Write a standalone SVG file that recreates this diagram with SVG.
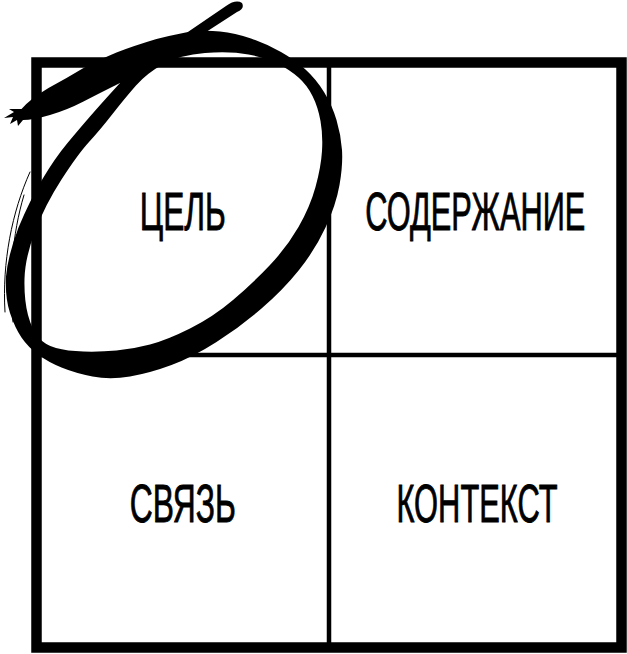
<svg xmlns="http://www.w3.org/2000/svg" width="627" height="654" viewBox="0 0 627 654">
<style>
.frame{fill:none;stroke:#000;stroke-width:10.5}
.div{fill:none;stroke:#000;stroke-width:4.5}
.lbl{font-family:"Liberation Sans",Arial,sans-serif;font-size:53px;fill:#000;stroke:#000;stroke-width:0.9;text-anchor:middle}
.ink{fill:#000}
.dry{fill:none;stroke:#000;stroke-width:1;stroke-linecap:round}
</style>
<rect x="0" y="0" width="627" height="654" fill="#fff"/>
<g id="grid">
<rect class="frame" x="36.5" y="62.5" width="585" height="585"/>
<line class="div" x1="329" y1="62.5" x2="329" y2="647.5"/>
<line class="div" x1="36.5" y1="355" x2="621.5" y2="355"/>
</g>
<g id="cell-goal"><text class="lbl" x="0" y="0" transform="translate(182.75,230) scale(0.59,1)" textLength="145.8" lengthAdjust="spacingAndGlyphs">ЦЕЛЬ</text></g>
<g id="cell-content"><text class="lbl" x="0" y="0" transform="translate(475.25,230) scale(0.59,1)" textLength="372.9" lengthAdjust="spacingAndGlyphs">СОДЕРЖАНИЕ</text></g>
<g id="cell-link"><text class="lbl" x="0" y="0" transform="translate(182.75,522) scale(0.59,1)" textLength="179.7" lengthAdjust="spacingAndGlyphs">СВЯЗЬ</text></g>
<g id="cell-context"><text class="lbl" x="0" y="0" transform="translate(477,522) scale(0.59,1)" textLength="272.9" lengthAdjust="spacingAndGlyphs">КОНТЕКСТ</text></g>
<g id="brush-circle">
<path class="ink" fill-rule="evenodd" d="M 21.5,109 Q 30,99 48.5,88 Q 67,78 83.5,68 Q 100,59 116.5,52.5 Q 133,46 156.5,39 Q 180,33 192.5,31.5 Q 205,30 220,31.5 Q 235,33 251,38.5 Q 267,44 281,52 Q 295,60 305.5,69.5 Q 316,79 324,92 Q 332,105 336.5,120 Q 341,135 342,150 Q 343,165 339.5,185 Q 336,205 325.5,227.5 Q 315,250 299,270 Q 283,290 261.5,308.5 Q 240,327 216.5,342 Q 193,357 171.5,365 Q 150,373 130,376.5 Q 110,380 92.5,376.5 Q 75,373 61.5,367.5 Q 48,362 38,354.5 Q 28,347 21.5,337.5 Q 15,328 10,313 Q 5,298 6,276.5 Q 8,255 18.5,227.5 Q 30,200 42.5,179 Q 55,158 67.5,143 Q 80,128 90,116.5 Q 100,105 110,94 L 120,83 L 110,88 Q 100,93 83.5,101.5 Q 67,110 50,115 Q 33,120 23,120 L 18,126 L 17,120 L 10,124 L 13,117 L 4,118 L 14,112 L 9,109 Z M 163.5,64 Q 180,55 205,53 Q 230,51 248.5,54.5 Q 267,58 278.5,64 Q 290,70 298.5,77.5 Q 307,85 312.5,96 Q 318,107 320.5,121 Q 323,135 322,151 Q 321,167 315.5,187 Q 310,207 298.5,227 Q 287,247 270,265 Q 253,283 233,300 Q 213,317 190,328.5 Q 167,340 150,344.5 Q 133,349 116.5,350.5 Q 100,352 83.5,351.5 Q 67,351 56,348 Q 45,345 38.5,337.5 Q 32,330 28,315 Q 24,300 24.5,279 Q 25,258 35,231.5 Q 45,205 61.5,179.5 Q 78,154 89,142 Q 100,130 112.5,114 Q 125,98 136,85.5 Q 147,73 163.5,64 Z"/>
<path class="ink" d="M 182,36 L 226,6 Q 236,-1 242,3 Q 245,9 237,12 L 203,34 Z"/>
<path class="dry" d="M 30,172 C 12,212 2,262 5,312"/>
<path class="dry" d="M 24,195 C 12,235 9,280 13,322"/>
</g>
</svg>
